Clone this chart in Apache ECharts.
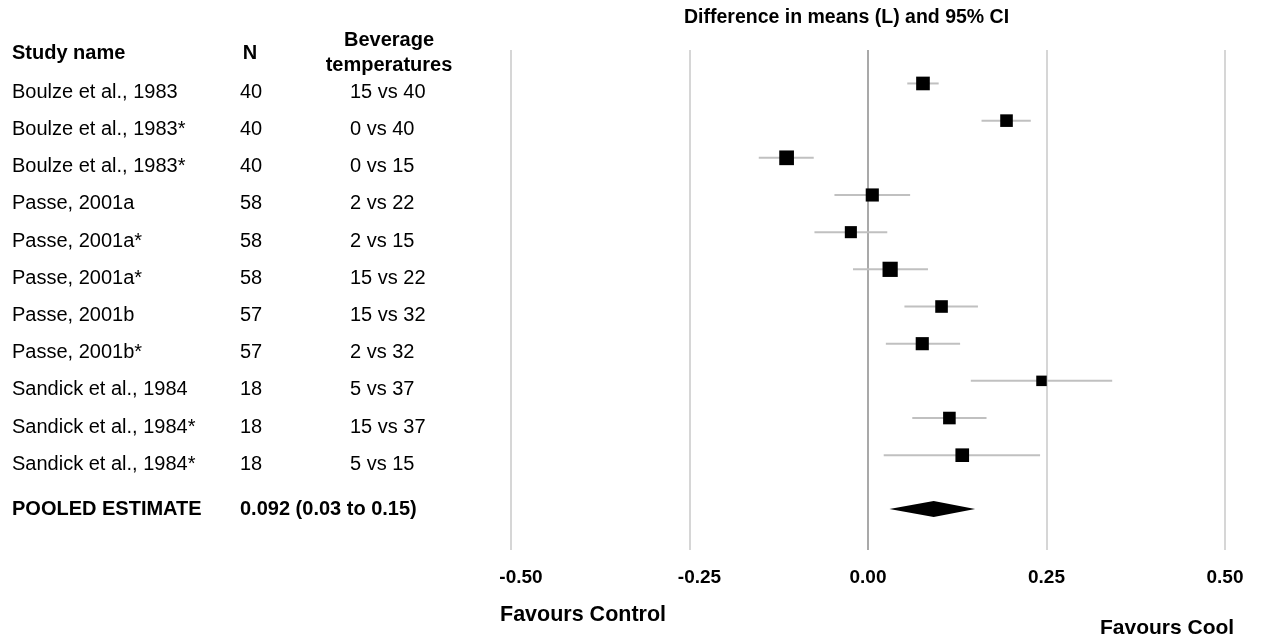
<!DOCTYPE html>
<html>
<head>
<meta charset="utf-8">
<style>
  html, body { margin: 0; padding: 0; background: #fff; }
  #chart { width: 1263px; height: 640px; }
</style>
<script src="https://cdn.jsdelivr.net/npm/echarts@6/dist/echarts.min.js"></script>
</head>
<body>
<div id="chart"></div>
<script>
// study rows, top to bottom
var studyNames = [
  "Boulze et al., 1983",
  "Boulze et al., 1983*",
  "Boulze et al., 1983*",
  "Passe, 2001a",
  "Passe, 2001a*",
  "Passe, 2001a*",
  "Passe, 2001b",
  "Passe, 2001b*",
  "Sandick et al., 1984",
  "Sandick et al., 1984*",
  "Sandick et al., 1984*"
];
var sampleSizes = [40, 40, 40, 58, 58, 58, 57, 57, 18, 18, 18];
var beverageTemps = ["15 vs 40", "0 vs 40", "0 vs 15", "2 vs 22", "2 vs 15", "15 vs 22",
  "15 vs 32", "2 vs 32", "5 vs 37", "15 vs 37", "5 vs 15"];
var meanDiff = [0.077, 0.194, -0.114, 0.006, -0.024, 0.031, 0.103, 0.076, 0.243, 0.114, 0.132];
var ciLower  = [0.055, 0.159, -0.153, -0.047, -0.075, -0.021, 0.051, 0.025, 0.144, 0.062, 0.022];
var ciUpper  = [0.099, 0.228, -0.076, 0.059, 0.027, 0.084, 0.154, 0.129, 0.342, 0.166, 0.241];
// relative study weights (drive the square size)
var studyWeights = [1.3, 1.2, 1.4, 1.25, 1.15, 1.45, 1.2, 1.25, 1.0, 1.2, 1.3];

var pooledEstimate = 0.092;
var pooledLower = 0.03;
var pooledUpper = 0.15;
var pooledText = "0.092 (0.03 to 0.15)";

var xTicks = [-0.5, -0.25, 0, 0.25, 0.5];

var FONT = "'Liberation Sans', Arial, Helvetica, sans-serif";
var pooledRow = studyNames.length + 1.45;

var chart = echarts.init(document.getElementById("chart"));

var rows = studyNames.map(function (n, i) { return i + 1; });

// forest plot data
var ciData = rows.map(function (r, i) { return [ciLower[i], ciUpper[i], r]; });
var pointData = rows.map(function (r, i) { return { value: [meanDiff[i], r], symbolSize: studyWeights[i] * 10.5 }; });

// table columns (x in the table grid's pixel-like scale)
function colSeries(x, texts, bold, dy) {
  return {
    type: "scatter",
    xAxisIndex: 1,
    yAxisIndex: 1,
    symbolSize: 0,
    silent: true,
    itemStyle: { opacity: 1 },
    data: texts.map(function (t, i) { return { value: [x, rows[i]], name: String(t) }; }),
    label: {
      show: true,
      position: "right",
      distance: 0,
      offset: [0, 9],
      formatter: function (p) { return p.name; },
      color: "#000",
      opacity: 1,
      fontFamily: FONT,
      fontSize: 20,
      fontWeight: bold ? "bold" : "normal"
    }
  };
}

var option = {
  animation: false,
  backgroundColor: "#fff",
  grid: [
    { left: 511, right: 38, top: 50, bottom: 90 },
    { left: 0, width: 511, top: 50, bottom: 90 }
  ],
  xAxis: [
    {
      type: "value",
      gridIndex: 0,
      min: xTicks[0],
      max: xTicks[xTicks.length - 1],
      interval: 0.25,
      axisLine: { show: false },
      axisTick: { show: false },
      splitLine: {
        show: true,
        lineStyle: { color: ["#c8c8c8", "#c8c8c8", "#8c8c8c", "#c8c8c8", "#c8c8c8"], width: 1.5 }
      },
      axisLabel: {
        margin: 18,
        color: "#000",
        fontFamily: FONT,
        fontSize: 19,
        fontWeight: "bold",
        formatter: function (v) {
          var s = v.toFixed(2);
          return v < 0 ? "{neg|" + s + "}" : s;
        },
        rich: {
          neg: { padding: [0, 0, 0, 20], fontFamily: FONT, fontSize: 19, fontWeight: "bold", color: "#000" }
        }
      }
    },
    { type: "value", gridIndex: 1, min: 0, max: 511, show: false }
  ],
  yAxis: [
    { type: "value", gridIndex: 0, inverse: true, min: 0.1, max: 13.55, show: false, splitLine: { show: false } },
    { type: "value", gridIndex: 1, inverse: true, min: 0.1, max: 13.55, show: false, splitLine: { show: false } }
  ],
  graphic: [
    { type: "text", left: 684, top: 8, style: { text: "Difference in means (L) and 95% CI", fill: "#000", font: "bold 19.5px " + FONT } },
    { type: "text", x: 12, y: 53, style: { text: "Study name", fill: "#000", font: "bold 20px " + FONT, verticalAlign: "middle" } },
    { type: "text", x: 250, y: 53, style: { text: "N", fill: "#000", font: "bold 20px " + FONT, align: "center", verticalAlign: "middle" } },
    { type: "text", x: 389, y: 40, style: { text: "Beverage", fill: "#000", font: "bold 20px " + FONT, align: "center", verticalAlign: "middle" } },
    { type: "text", x: 389, y: 65, style: { text: "temperatures", fill: "#000", font: "bold 20px " + FONT, align: "center", verticalAlign: "middle" } },
    { type: "text", x: 500, y: 615, style: { text: "Favours Control", fill: "#000", font: "bold 21.5px " + FONT, verticalAlign: "middle" } },
    { type: "text", x: 1100, y: 628, style: { text: "Favours Cool", fill: "#000", font: "bold 21px " + FONT, verticalAlign: "middle" } }
  ],
  series: [
    {
      // confidence intervals
      type: "custom",
      xAxisIndex: 0,
      yAxisIndex: 0,
      silent: true,
      z: 2,
      data: ciData,
      renderItem: function (params, api) {
        var a = api.coord([api.value(0), api.value(2)]);
        var b = api.coord([api.value(1), api.value(2)]);
        return {
          type: "line",
          shape: { x1: a[0], y1: a[1], x2: b[0], y2: b[1] },
          style: { stroke: "#c0c0c0", lineWidth: 2 }
        };
      }
    },
    {
      // point estimates
      type: "scatter",
      xAxisIndex: 0,
      yAxisIndex: 0,
      symbol: "rect",
      silent: true,
      z: 3,
      itemStyle: { color: "#000", opacity: 1 },
      data: pointData
    },
    {
      // pooled diamond
      type: "custom",
      xAxisIndex: 0,
      yAxisIndex: 0,
      silent: true,
      z: 3,
      data: [[pooledLower, pooledEstimate, pooledUpper, pooledRow]],
      renderItem: function (params, api) {
        var y = api.value(3);
        var l = api.coord([api.value(0), y]);
        var m = api.coord([api.value(1), y]);
        var r = api.coord([api.value(2), y]);
        var h = 8;
        return {
          type: "polygon",
          shape: { points: [[l[0], l[1]], [m[0], m[1] - h], [r[0], r[1]], [m[0], m[1] + h]] },
          style: { fill: "#000" }
        };
      }
    },
    colSeries(12, studyNames, false),
    colSeries(240, sampleSizes, false),
    colSeries(350, beverageTemps, false),
    {
      type: "scatter",
      xAxisIndex: 1,
      yAxisIndex: 1,
      symbolSize: 0,
      silent: true,
      itemStyle: { opacity: 1 },
      data: [
        { value: [12, pooledRow], name: "POOLED ESTIMATE" },
        { value: [240, pooledRow], name: pooledText }
      ],
      label: {
        show: true,
        position: "right",
        distance: 0,
        formatter: function (p) { return p.name; },
        color: "#000",
        fontFamily: FONT,
        fontSize: 20,
        fontWeight: "bold"
      }
    }
  ]
};

chart.setOption(option);
</script>
</body>
</html>
